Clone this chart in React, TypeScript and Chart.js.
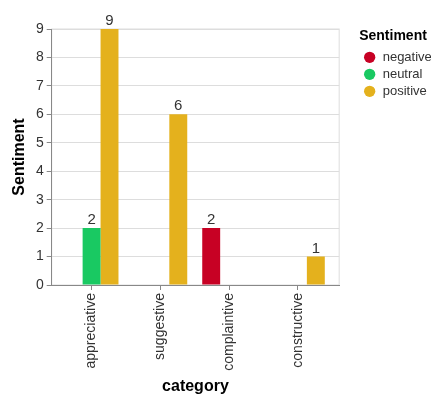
import { Chart, ChartConfiguration, Plugin, registerables } from "chart.js";
import { useEffect, useRef } from "react";

Chart.register(...registerables);

const categories = ["appreciative", "suggestive", "complaintive", "constructive"];
const sentiments = ["negative", "neutral", "positive"];
const negativeCounts = [null, null, 2, null];
const neutralCounts = [2, null, null, null];
const positiveCounts = [9, 6, null, 1];
const sentimentColors = ["#c70124", "#19c962", "#e4b11d"];

const FONT = "'Liberation Sans', Arial, sans-serif";

// light frame round the plot (left/bottom get overdrawn by the axes)
const plotFrame: Plugin<"bar"> = {
  id: "plotFrame",
  beforeDraw(chart) {
    const { ctx, chartArea: a } = chart;
    ctx.save();
    ctx.strokeStyle = "#dddddd";
    ctx.lineWidth = 1;
    ctx.strokeRect(a.left, a.top, a.right - a.left, a.bottom - a.top);
    ctx.restore();
  },
};

// value above each bar
const barLabels: Plugin<"bar"> = {
  id: "barLabels",
  afterDatasetsDraw(chart) {
    const { ctx } = chart;
    ctx.save();
    ctx.font = `15px ${FONT}`;
    ctx.fillStyle = "#333";
    ctx.textAlign = "center";
    ctx.textBaseline = "alphabetic";
    chart.data.datasets.forEach((ds, i) => {
      chart.getDatasetMeta(i).data.forEach((bar, j) => {
        const point = ds.data[j] as { y: number | null };
        if (point == null || point.y == null) return;
        ctx.fillText(String(point.y), bar.x, bar.y - 4);
      });
    });
    ctx.restore();
  },
};

const App = () => {
  const chartRef = useRef<HTMLCanvasElement>(null);

  useEffect(() => {
    document.body.style.margin = "0";
    if (!chartRef.current) return;

    const series = [negativeCounts, neutralCounts, positiveCounts];

    const config: ChartConfiguration<"bar"> = {
      type: "bar",
      data: {
        datasets: sentiments.map((name, i) => ({
          label: name,
          data: series[i].map((y, x) => ({ x, y })) as any,
          backgroundColor: sentimentColors[i],
          borderWidth: 0,
          barPercentage: 1,
          categoryPercentage: 0.782,
        })),
      },
      options: {
        responsive: false,
        animation: false,
        layout: { padding: { top: 29, right: 12, bottom: 0, left: 0 } },
        plugins: {
          tooltip: { enabled: false },
          legend: {
            position: "right",
            align: "start",
            title: {
              display: true,
              text: "Sentiment",
              position: "start",
              color: "#000",
              font: { family: FONT, size: 14, weight: "bold" },
              padding: { top: 0, bottom: 1 },
            },
            labels: {
              usePointStyle: true,
              pointStyle: "circle",
              boxWidth: 13,
              boxHeight: 8,
              padding: 4,
              color: "#333",
              font: { family: FONT, size: 13 },
            },
          },
        },
        scales: {
          x: {
            type: "linear",
            min: -0.58,
            max: 3.6,
            offset: false,
            afterBuildTicks: (scale) => {
              scale.ticks = categories.map((_, i) => ({ value: i }));
            },
            afterFit: (scale) => {
              scale.height = 135;
            },
            ticks: {
              autoSkip: false,
              minRotation: 90,
              maxRotation: 90,
              padding: 3,
              color: "#333",
              font: { family: FONT, size: 14 },
              callback: (value) => categories[value as number],
            },
            grid: {
              offset: false,
              drawOnChartArea: false,
              drawTicks: true,
              tickLength: 5,
              tickColor: "#888",
            },
            border: { color: "#888" },
            title: {
              display: true,
              text: "category",
              color: "#000",
              font: { family: FONT, size: 16, weight: "bold" },
              padding: { top: 4, bottom: 24 },
            },
          },
          y: {
            type: "linear",
            min: 0,
            max: 9,
            afterFit: (scale) => {
              scale.width = 51.7;
            },
            ticks: {
              stepSize: 1,
              padding: 3,
              color: "#333",
              font: { family: FONT, size: 14 },
            },
            grid: {
              color: "#dddddd",
              tickColor: "#888",
              tickLength: 5,
            },
            border: { color: "#888" },
            title: {
              display: true,
              text: "Sentiment",
              color: "#000",
              font: { family: FONT, size: 16, weight: "bold" },
              padding: { top: 10, bottom: 0 },
            },
          },
          // empty spacer between the plot and the legend
          gap: {
            type: "linear",
            position: "right",
            display: true,
            afterFit: (scale) => {
              scale.width = 20;
            },
            ticks: { display: false },
            grid: { display: false },
            border: { display: false },
          },
        },
      },
      plugins: [plotFrame, barLabels],
    };

    const chartInstance = new Chart(chartRef.current, config);
    return () => {
      chartInstance.destroy();
    };
  }, []);

  return (
    <div style={{ width: 443, height: 420 }}>
      <canvas ref={chartRef} width={443} height={420} style={{ display: "block" }} />
    </div>
  );
};

export default App;
